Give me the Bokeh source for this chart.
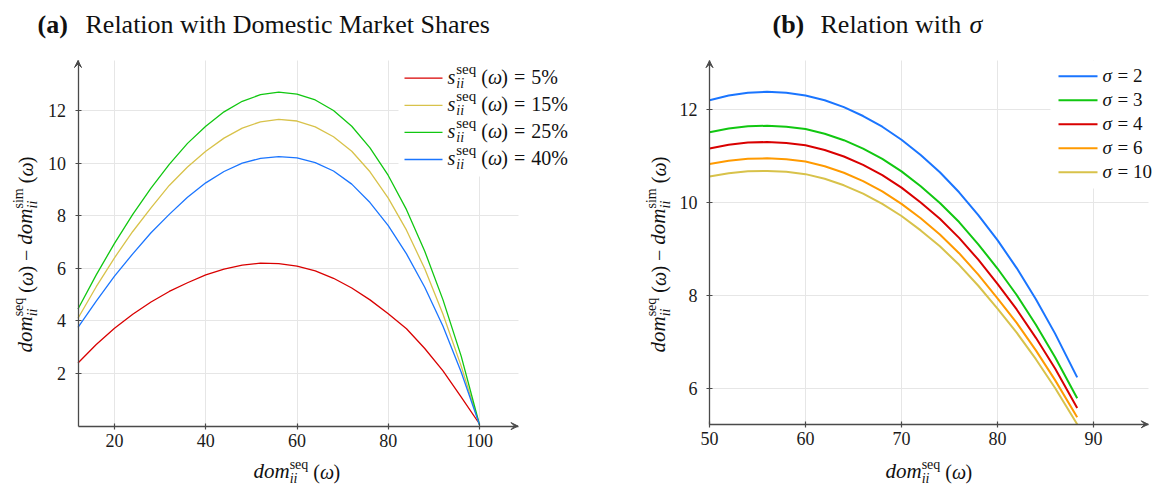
import math
from bokeh.plotting import figure
from bokeh.models import Range1d, FixedTicker, Label, Arrow, VeeHead, BoxAnnotation
from bokeh.layouts import row
from bokeh.embed import file_html
from bokeh.resources import INLINE

# ---------------- data: panel (a) ----------------
dom_a = [12, 16, 20, 24, 28, 32, 36, 40, 44, 48, 52, 56, 60, 64, 68, 72, 76, 80, 84, 88, 92, 96, 100]
gap_s5 = [2.40, 3.10, 3.72, 4.25, 4.72, 5.12, 5.45, 5.75, 5.97, 6.12, 6.20, 6.18, 6.08, 5.90, 5.62, 5.25,
          4.80, 4.27, 3.70, 2.95, 2.10, 1.10, 0.08]
gap_s15 = [4.10, 5.30, 6.40, 7.40, 8.30, 9.15, 9.85, 10.45, 10.95, 11.33, 11.57, 11.66, 11.60, 11.38, 11.00,
           10.45, 9.67, 8.67, 7.45, 5.98, 4.25, 2.27, 0.05]
gap_s25 = [4.45, 5.75, 6.95, 8.05, 9.05, 9.95, 10.75, 11.40, 11.95, 12.35, 12.60, 12.70, 12.62, 12.40, 12.00,
           11.40, 10.58, 9.53, 8.23, 6.65, 4.80, 2.65, 0.05]
gap_s40 = [3.75, 4.75, 5.70, 6.55, 7.35, 8.05, 8.70, 9.25, 9.68, 10.00, 10.18, 10.25, 10.20, 10.02, 9.70,
           9.20, 8.50, 7.62, 6.55, 5.28, 3.80, 2.05, 0.05]
share_labels = ["5%", "15%", "25%", "40%"]
xticks_a = [20, 40, 60, 80, 100]
yticks_a = [2, 4, 6, 8, 10, 12]

# ---------------- data: panel (b) ----------------
dom_b = [50, 52, 54, 56, 58, 60, 62, 64, 66, 68, 70, 72, 74, 76, 78, 80, 82, 84, 86, 88.3]
gap_sig2 = [12.20, 12.30, 12.36, 12.38, 12.36, 12.30, 12.20, 12.05, 11.86, 11.63, 11.35, 11.02, 10.65, 10.22,
            9.73, 9.19, 8.59, 7.92, 7.18, 6.24]
gap_sig3 = [11.51, 11.59, 11.64, 11.65, 11.63, 11.58, 11.48, 11.34, 11.16, 10.94, 10.67, 10.35, 9.99, 9.58,
            9.10, 8.58, 8.01, 7.37, 6.67, 5.79]
gap_sig4 = [11.16, 11.24, 11.29, 11.30, 11.28, 11.23, 11.13, 10.99, 10.81, 10.59, 10.32, 10.00, 9.65, 9.24,
            8.77, 8.25, 7.70, 7.09, 6.43, 5.58]
gap_sig6 = [10.83, 10.90, 10.94, 10.95, 10.93, 10.88, 10.78, 10.64, 10.46, 10.24, 9.97, 9.66, 9.31, 8.91,
            8.45, 7.94, 7.41, 6.82, 6.18, 5.38]
gap_sig10 = [10.56, 10.63, 10.67, 10.68, 10.66, 10.61, 10.51, 10.37, 10.19, 9.97, 9.71, 9.40, 9.06, 8.66,
             8.21, 7.72, 7.20, 6.63, 6.01, 5.23]
sigma_labels = ["2", "3", "4", "6", "10"]
xticks_b = [50, 60, 70, 80, 90]
yticks_b = [6, 8, 10, 12]

# ---------------- styling ----------------
RED, YEL, GRN, BLU, ORA = "#d90000", "#d8c24a", "#11c711", "#1a75ff", "#ff9a00"
colors_a = [RED, YEL, GRN, BLU]
colors_b = [BLU, GRN, RED, ORA, YEL]
SERIF = "Liberation Serif"
AXC = "#4a4a4a"
GRIDC = "#e6e6e6"
H = 488
BASE_SHIFT = 0.3375   # rendered text sits this many em below the requested baseline

W_REG = {'(': .333, ')': .333, ' ': .25, '−': .564, '=': .564, '%': .833, 's': .389, 'e': .444,
         'q': .5, 'i': .278, 'm': .778, 'ω': .69}
W_IT = {'d': .5, 'o': .5, 'm': .722, 'i': .278, 's': .389, 'ω': .67, 'σ': .55}


def tw(text, size, italic=False):
    tab = W_IT if italic else W_REG
    return sum(tab.get(c, 0.5) for c in text) * size


class Panel:
    """One sub-chart; the plot frame fills the whole canvas, axes sit at fixed data locations."""

    def __init__(self, ox, width, xmap, ymap, xb, yb, xt, yt):
        self.ox = ox
        xv0, xp0, kx = xmap          # value, screenshot pixel, px per unit
        yv0, yp0, ky = ymap
        xs = xv0 - (xp0 - ox) / kx
        ye = yv0 + yp0 / ky
        p = figure(width=width, height=H, x_range=Range1d(xs, xs + width / kx),
                   y_range=Range1d(ye - H / ky, ye), output_backend="svg", toolbar_location=None,
                   min_border_left=0, min_border_right=0, min_border_top=0, min_border_bottom=0)
        p.outline_line_color = None
        p.background_fill_color = "white"
        p.border_fill_color = "white"
        xtk, ytk = FixedTicker(ticks=xt), FixedTicker(ticks=yt)
        p.xaxis.ticker = xtk
        p.yaxis.ticker = ytk
        p.xaxis.fixed_location = yb[0]
        p.yaxis.fixed_location = xb[0]
        p.xaxis.bounds = xb
        p.yaxis.bounds = yb
        gx, gy = p.xgrid[0], p.ygrid[0]
        gx.ticker = xtk
        gy.ticker = ytk
        if "cross_bounds" in gx.properties():
            gx.bounds = xb
            gx.cross_bounds = yb
            gy.bounds = yb
            gy.cross_bounds = xb
            for g in (gx, gy):
                g.grid_line_color = GRIDC
                g.grid_line_width = 1
        else:
            gx.visible = False
            gy.visible = False
            p.segment(x0=xt, y0=[yb[0]] * len(xt), x1=xt, y1=[yb[1]] * len(xt),
                      line_color=GRIDC, line_width=1, level="underlay")
            p.segment(x0=[xb[0]] * len(yt), y0=yt, x1=[xb[1]] * len(yt), y1=yt,
                      line_color=GRIDC, line_width=1, level="underlay")
        for ax in (p.xaxis[0], p.yaxis[0]):
            ax.axis_line_color = AXC
            ax.axis_line_width = 1.3
            ax.major_tick_line_color = AXC
            ax.major_tick_line_width = 1.2
            ax.major_tick_in = 3
            ax.major_tick_out = 3
            ax.minor_tick_line_color = None
            ax.major_label_text_font = SERIF
            ax.major_label_text_font_size = "18px"
            ax.major_label_text_color = "#1a1a1a"
        p.xaxis[0].major_label_standoff = 5
        p.yaxis[0].major_label_standoff = 9
        head = dict(size=7, line_color=AXC, fill_color=AXC, line_width=1)
        p.add_layout(Arrow(end=VeeHead(**head), x_start=xb[1] - 0.5, y_start=yb[0], x_end=xb[1],
                           y_end=yb[0], line_color=AXC, line_width=1.3))
        p.add_layout(Arrow(end=VeeHead(**head), x_start=xb[0], y_start=yb[1] - 0.1, x_end=xb[0],
                           y_end=yb[1], line_color=AXC, line_width=1.3))
        self.p = p

    def sx(self, x):
        return x - self.ox

    def sy(self, y):
        return H - y

    def text(self, x, y, text, size, style="normal", angle=0.0, color="#111111"):
        # (x, y): wanted baseline start in page pixels; compensate the renderer's baseline offset
        ux, uy = -math.sin(angle), -math.cos(angle)
        x += ux * BASE_SHIFT * size
        y += uy * BASE_SHIFT * size
        self.p.add_layout(Label(x=self.sx(x), y=self.sy(y), x_units="screen", y_units="screen",
                                text=text, text_font=SERIF, text_font_size=f"{size}px",
                                text_font_style=style, angle=angle, text_align="left",
                                text_baseline="alphabetic", text_color=color))

    def seq(self, x, y, groups, angle=0.0):
        dx, dy = math.cos(angle), -math.sin(angle)
        ux, uy = -math.sin(angle), -math.cos(angle)
        cur = 0.0
        for group, extra in groups:
            adv = 0.0
            for text, size, style, rise in group:
                self.text(x + dx * cur + ux * rise, y + dy * cur + uy * rise, text, size, style, angle)
                adv = max(adv, tw(text, size, style == "italic"))
            cur += adv + extra
        return cur

    def box(self, x0, x1, y0, y1):
        self.p.add_layout(BoxAnnotation(left=self.sx(x0), right=self.sx(x1), top=self.sy(y0),
                                        bottom=self.sy(y1), left_units="screen", right_units="screen",
                                        top_units="screen", bottom_units="screen", fill_color="white",
                                        fill_alpha=1.0, line_color=None))

    def swatch(self, x0, x1, y, color, w):
        self.p.add_layout(Arrow(start=None, end=None, x_start=self.sx(x0), y_start=self.sy(y),
                                x_end=self.sx(x1), y_end=self.sy(y), start_units="screen",
                                end_units="screen", line_color=color, line_width=w))


def dom_groups(sup, main=21, small=14, paren=20):
    return [([("dom", main, "italic", 0)], 0),
            ([(sup, small, "normal", 9), ("ii", small, "italic", -4.5)], 5),
            ([("(", paren, "normal", 0)], 0),
            ([("ω", paren, "italic", 0)], 0),
            ([(")", paren, "normal", 0)], 0)]


YLABEL = dom_groups("seq") + [([], 5), ([("−", 20, "normal", 0)], 5)] + dom_groups("sim")

# ---------------- panel (a) ----------------
A = Panel(0, 588, (20, 114, 4.5625), (2, 373, 26.3), (12, 108.44), (0, 13.9), xticks_a, yticks_a)
for ys, col in zip([gap_s5, gap_s15, gap_s25, gap_s40], colors_a):
    A.p.line(dom_a, ys, line_color=col, line_width=1.3)

A.text(37, 33, "(a)", 26, "bold")
A.text(85, 33, "Relation with Domestic Market Shares", 26)
A.seq(253, 478, dom_groups("seq"))
A.seq(32, 352, YLABEL, angle=math.pi / 2)

A.box(398, 588, 60, 176)
for i, (lab, col) in enumerate(zip(share_labels, colors_a)):
    ys = 77.7 + i * 27.1
    A.swatch(404, 442, ys, col, 1.3)
    A.seq(447, ys + 5.5, [([("s", 20, "italic", 0)], 1),
                          ([("seq", 15, "normal", 9.5), ("ii", 14, "italic", -4.5)], 5),
                          ([("(", 20, "normal", 0)], 0), ([("ω", 20, "italic", 0)], 0),
                          ([(")", 20, "normal", 0)], 6), ([("=", 20, "normal", 0)], 6),
                          ([(lab, 20, "normal", 0)], 0)])

# ---------------- panel (b) ----------------
B = Panel(588, 574, (50, 709, 9.6), (6, 388, 46.5), (50, 95.7), (5.23, 13.05), xticks_b, yticks_b)
for ys, col in zip([gap_sig2, gap_sig3, gap_sig4, gap_sig6, gap_sig10], colors_b):
    B.p.line(dom_b, ys, line_color=col, line_width=2)

B.text(772, 33, "(b)", 26, "bold")
B.text(820, 33, "Relation with", 26)
B.text(969, 33, "σ", 26, "italic")
B.seq(885, 478, dom_groups("seq"))
B.seq(665, 352, YLABEL, angle=math.pi / 2)

B.box(1050, 1162, 60, 188)
for i, (lab, col) in enumerate(zip(sigma_labels, colors_b)):
    ys = 75.7 + i * 24.0
    B.swatch(1058, 1097, ys, col, 2)
    B.text(1102, ys + 5.5, "σ", 19, "italic")
    B.text(1117, ys + 5.5, "= " + lab, 19)

layout = row(A.p, B.p, spacing=0)
open("out.html", "w").write(file_html(layout, INLINE))
